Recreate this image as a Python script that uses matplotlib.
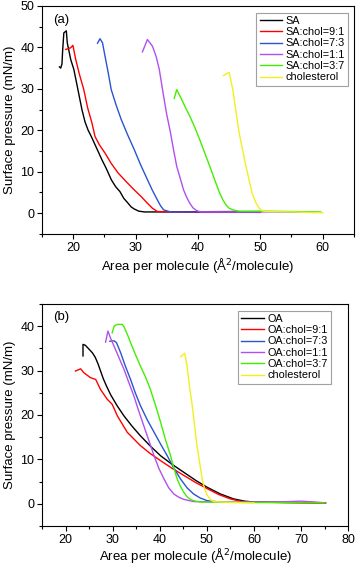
import numpy as np
import matplotlib.pyplot as plt
from matplotlib.ticker import MultipleLocator

plt.rcParams['font.family'] = ['Liberation Sans', 'DejaVu Sans']

# panel (a): stearic acid / cholesterol isotherms
sa_x = [17.8, 18.0, 18.2, 18.3, 18.5, 18.9, 19.05, 19.6, 20.1, 20.6, 21.0, 21.4, 21.9, 22.4, 22.9, 23.6,
        24.6, 25.3, 26.1, 26.8, 27.5, 28.1, 28.8, 29.3, 29.8, 30.5, 31.4, 35.0, 40.0, 46.5]
sa_y = [35.3, 35.0, 36.0, 39.0, 43.5, 44.0, 41.1, 37.1, 34.7, 31.0, 28.0, 25.0, 22.0, 20.0, 18.5, 16.2,
        12.9, 10.8, 8.1, 6.4, 5.2, 3.6, 2.4, 1.5, 1.0, 0.5, 0.3, 0.3, 0.35, 0.4]
sa91_x = [18.8, 19.6, 19.95, 20.4, 21.0, 21.7, 22.3, 23.0, 23.5, 24.2, 25.1, 26.1, 27.2, 28.5, 29.8,
          30.9, 31.9, 32.7, 33.5, 40.0, 50.0]
sa91_y = [39.5, 39.9, 40.5, 37.1, 33.5, 29.8, 25.5, 21.8, 18.5, 16.5, 14.5, 12.0, 9.7, 7.6, 5.6,
          4.0, 2.4, 1.2, 0.4, 0.2, 0.2]
sa73_x = [23.9, 24.3, 24.7, 25.1, 25.6, 26.1, 26.9, 27.7, 28.7, 29.8, 30.8, 31.9, 32.7, 33.5, 34.0,
          34.5, 35.6, 42.0, 49.8]
sa73_y = [41.0, 42.1, 41.1, 37.9, 34.0, 29.8, 26.0, 22.6, 19.0, 15.3, 11.7, 8.1, 5.5, 3.2, 1.8,
          0.8, 0.3, 0.3, 0.2]
sa11_x = [31.1, 31.9, 32.7, 33.3, 33.8, 34.5, 35.0, 35.6, 36.1, 36.6, 37.2, 37.7, 38.2, 38.7, 39.2,
          39.8, 40.5, 45.0, 52.0, 58.7]
sa11_y = [38.9, 41.9, 40.3, 37.8, 34.7, 28.2, 23.8, 19.4, 15.2, 11.3, 8.2, 5.6, 3.8, 2.4, 1.3,
          0.6, 0.3, 0.3, 0.3, 0.2]
sa37_x = [36.2, 36.6, 37.4, 38.0, 38.7, 39.5, 40.3, 41.1, 41.9, 42.7, 43.5, 44.0, 44.5, 45.0, 45.6,
          46.5, 50.0, 55.0, 59.7]
sa37_y = [27.7, 29.8, 27.4, 25.5, 23.4, 20.7, 17.7, 14.5, 11.3, 8.0, 4.8, 3.2, 2.0, 1.2, 0.8,
          0.5, 0.5, 0.4, 0.3]
chol_a_x = [44.1, 45.0, 45.6, 46.1, 46.6, 47.2, 47.7, 48.2, 48.7, 49.2, 49.8, 50.3, 50.8, 55.0, 60.0]
chol_a_y = [33.2, 34.0, 29.8, 24.5, 19.4, 15.0, 11.3, 8.0, 4.8, 2.8, 1.2, 0.6, 0.4, 0.3, 0.1]

# panel (b): oleic acid / cholesterol isotherms
oa_x = [23.7, 23.7, 24.2, 25.0, 25.7, 26.3, 26.9, 27.4, 28.0, 28.7, 29.6, 31.0, 32.4, 34.1, 35.9, 38.0,
        40.2, 42.6, 45.1, 47.6, 50.1, 52.9, 55.7, 58.0, 60.0, 67.0, 75.2]
oa_y = [33.3, 35.9, 35.7, 34.8, 34.0, 33.0, 31.5, 30.0, 28.2, 26.5, 24.5, 22.0, 19.8, 17.5, 15.3, 13.0,
        10.8, 8.9, 7.1, 5.3, 3.7, 2.2, 1.1, 0.6, 0.4, 0.3, 0.2]
oa91_x = [22.1, 23.2, 23.9, 25.3, 26.4, 27.4, 28.8, 29.9, 31.0, 33.1, 35.9, 38.0, 40.2, 42.6, 45.1,
          47.6, 50.1, 52.5, 55.0, 57.0, 58.6, 66.0, 75.0]
oa91_y = [29.9, 30.4, 29.5, 28.4, 28.0, 25.8, 23.6, 22.4, 19.8, 16.1, 13.1, 11.3, 9.7, 8.0, 6.4,
          4.8, 3.4, 2.1, 1.1, 0.6, 0.4, 0.3, 0.2]
oa73_x = [29.4, 30.3, 30.8, 31.2, 31.7, 32.7, 33.8, 34.8, 35.9, 37.3, 38.8, 40.2, 41.6, 43.0, 44.4,
          45.8, 47.2, 48.6, 50.1, 52.9]
oa73_y = [36.6, 36.7, 36.3, 35.3, 34.0, 31.0, 28.0, 25.0, 22.1, 19.0, 16.1, 13.4, 10.8, 8.0, 5.6,
          3.6, 2.2, 1.3, 0.7, 0.4]
oa11_x = [28.5, 29.0, 29.6, 30.3, 31.3, 32.4, 33.4, 34.5, 35.5, 36.6, 37.7, 38.8, 39.8, 40.9, 41.9,
          43.0, 44.0, 45.1, 47.2, 55.0, 65.0, 70.0, 73.0, 75.2]
oa11_y = [36.4, 38.9, 37.2, 35.5, 33.0, 30.3, 27.4, 24.3, 21.0, 17.6, 14.2, 10.8, 8.0, 5.6, 3.6,
          2.2, 1.5, 1.0, 0.5, 0.4, 0.4, 0.6, 0.4, 0.2]
oa37_x = [29.9, 30.3, 31.0, 32.0, 32.4, 33.1, 33.8, 34.8, 35.9, 37.0, 38.0, 39.1, 40.2, 41.2, 42.3,
          43.0, 43.7, 44.4, 45.1, 45.8, 46.5, 47.5, 48.7, 60.0, 75.0]
oa37_y = [38.5, 40.0, 40.4, 40.4, 39.9, 38.2, 36.3, 33.7, 31.0, 28.5, 25.8, 22.2, 18.3, 14.5, 10.8,
          8.0, 5.6, 3.9, 2.6, 1.6, 1.0, 0.6, 0.4, 0.3, 0.2]
chol_b_x = [44.4, 45.3, 45.8, 46.3, 46.9, 47.4, 47.9, 48.5, 49.0, 49.5, 50.1, 50.8, 51.5, 55.0, 60.0]
chol_b_y = [33.1, 33.9, 31.0, 26.5, 22.1, 17.5, 13.1, 9.0, 5.6, 3.4, 1.9, 0.9, 0.5, 0.3, 0.2]

colors = ['black', '#ff0000', '#2a55d0', '#b050f0', '#44ee00', '#f0f020']
labels_a = ['SA', 'SA:chol=9:1', 'SA:chol=7:3', 'SA:chol=1:1', 'SA:chol=3:7', 'cholesterol']
labels_b = ['OA', 'OA:chol=9:1', 'OA:chol=7:3', 'OA:chol=1:1', 'OA:chol=3:7', 'cholesterol']

series_a = [(sa_x, sa_y), (sa91_x, sa91_y), (sa73_x, sa73_y), (sa11_x, sa11_y), (sa37_x, sa37_y), (chol_a_x, chol_a_y)]
series_b = [(oa_x, oa_y), (oa91_x, oa91_y), (oa73_x, oa73_y), (oa11_x, oa11_y), (oa37_x, oa37_y), (chol_b_x, chol_b_y)]

fig = plt.figure(figsize=(3.56, 5.65), dpi=100)
ax1 = fig.add_axes([0.118, 0.586, 0.876, 0.4035])
ax2 = fig.add_axes([0.118, 0.0690, 0.860, 0.3930])


def style_axes(ax, series, labels, xlim, ylim, tag, leg_anchor, xpad):
    for (x, y), c, lab in zip(series, colors, labels):
        ax.plot(x, y, color=c, lw=1.0, label=lab)
    ax.set_xlim(*xlim)
    ax.set_ylim(*ylim)
    ax.xaxis.set_major_locator(MultipleLocator(10))
    ax.xaxis.set_minor_locator(MultipleLocator(5))
    ax.yaxis.set_major_locator(MultipleLocator(10))
    ax.yaxis.set_minor_locator(MultipleLocator(5))
    ax.tick_params(which='major', direction='out', length=3.5, width=0.8, labelsize=9, pad=2)
    ax.tick_params(which='minor', direction='out', length=2, width=0.8)
    ax.set_xlabel('Area per molecule (Å$^2$/molecule)', fontsize=9.5, labelpad=xpad)
    ax.set_ylabel('Surface pressure (mN/m)', fontsize=9.5, labelpad=3)
    ax.text(0.062, 0.94, tag, transform=ax.transAxes, fontsize=9.5, ha='center', va='center')
    leg = ax.legend(loc='upper right', bbox_to_anchor=leg_anchor, fontsize=7.8, frameon=True,
                    fancybox=False, handlelength=2.1, handletextpad=0.3, borderpad=0.3,
                    labelspacing=0.12, borderaxespad=0.0)
    leg.get_frame().set_edgecolor('#888888')
    leg.get_frame().set_linewidth(0.8)
    for sp in ax.spines.values():
        sp.set_linewidth(0.8)


style_axes(ax1, series_a, labels_a, (15, 65), (-5, 50), '(a)', (0.982, 0.971), 2)
style_axes(ax2, series_b, labels_b, (15, 80), (-5, 45), '(b)', (0.944, 0.970), 0.5)

fig.savefig('out.png', dpi=100)
